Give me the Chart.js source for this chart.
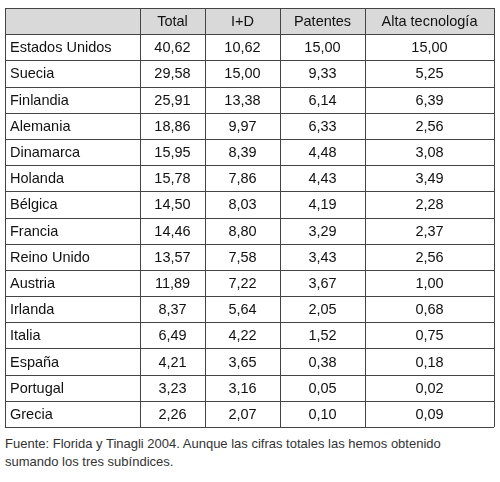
<!DOCTYPE html>
<html><head><meta charset="utf-8">
<script src="https://cdn.jsdelivr.net/npm/chart.js@4"></script>
<style>
body{margin:0;background:#fff;font-family:"Liberation Sans",Arial,sans-serif}
#wrap{width:500px;height:435px;position:relative}
#note{margin:0 0 0 5px;font-size:13px;line-height:18px;color:#333;width:470px}
</style></head><body>
<div id="wrap"><canvas id="tbl"></canvas></div>
<p id="note">Fuente: Florida y Tinagli 2004. Aunque las cifras totales las hemos obtenido sumando los tres subíndices.</p>
<script>
const headers = ["", "Total", "I+D", "Patentes", "Alta tecnología"];
const countries = ["Estados Unidos","Suecia","Finlandia","Alemania","Dinamarca","Holanda","Bélgica","Francia","Reino Unido","Austria","Irlanda","Italia","España","Portugal","Grecia"];
const total = ["40,62","29,58","25,91","18,86","15,95","15,78","14,50","14,46","13,57","11,89","8,37","6,49","4,21","3,23","2,26"];
const rd = ["10,62","15,00","13,38","9,97","8,39","7,86","8,03","8,80","7,58","7,22","5,64","4,22","3,65","3,16","2,07"];
const patents = ["15,00","9,33","6,14","6,33","4,48","4,43","4,19","3,29","3,43","3,67","2,05","1,52","0,38","0,05","0,10"];
const hightech = ["15,00","5,25","6,39","2,56","3,08","3,49","2,28","2,37","2,56","1,00","0,68","0,75","0,18","0,02","0,09"];

const edges = [5, 140, 205, 280, 365, 494];
const columns = [countries, total, rd, patents, hightech];

// one point per cell, text drawn at the point
const cells = [];
headers.forEach((h, c) => cells.push({x: c === 0 ? edges[0] + 5 : (edges[c] + edges[c+1]) / 2, y: 0.5, text: h, col: c, head: true}));
columns.forEach((vals, c) => vals.forEach((v, r) => cells.push({
  x: c === 0 ? edges[0] + 5 : (edges[c] + edges[c+1]) / 2, y: r + 1.5, text: v, col: c
})));
const nRows = countries.length + 1;

const tablePlugin = {
  id: "table",
  beforeDatasetsDraw(chart) {
    const {ctx, scales: {x, y}} = chart;
    const L = x.getPixelForValue(edges[0]), R = x.getPixelForValue(edges[edges.length-1]);
    const T = y.getPixelForValue(0), B = y.getPixelForValue(nRows);
    ctx.save();
    ctx.fillStyle = "#d9d9d9";
    ctx.fillRect(L, T, R - L, y.getPixelForValue(1) - T);
    ctx.strokeStyle = "#444";
    ctx.lineWidth = 1;
    ctx.beginPath();
    for (let r = 0; r <= nRows; r++) {
      const py = Math.round(y.getPixelForValue(r)) + 0.5;
      ctx.moveTo(L, py); ctx.lineTo(R, py);
    }
    edges.forEach(e => {
      const px = Math.round(x.getPixelForValue(e)) + 0.5;
      ctx.moveTo(px, T); ctx.lineTo(px, B);
    });
    ctx.stroke();
    ctx.restore();
  },
  afterDatasetsDraw(chart) {
    const {ctx} = chart;
    const meta = chart.getDatasetMeta(0);
    ctx.save();
    ctx.font = "14.5px 'Liberation Sans', Arial, sans-serif";
    ctx.fillStyle = "#111";
    ctx.textBaseline = "middle";
    meta.data.forEach((el, i) => {
      const cell = cells[i];
      ctx.textAlign = cell.col === 0 ? "left" : "center";
      ctx.fillText(cell.text, el.x, el.y + 1);
    });
    ctx.restore();
  }
};

new Chart(document.getElementById("tbl"), {
  type: "scatter",
  data: {datasets: [{data: cells, pointRadius: 0, pointHoverRadius: 0}]},
  options: {
    responsive: true,
    maintainAspectRatio: false,
    animation: false,
    events: [],
    layout: {padding: {top: 8, bottom: 8, left: 0, right: 0}},
    plugins: {legend: {display: false}, tooltip: {enabled: false}},
    scales: {
      x: {type: "linear", min: 0, max: 500, display: false},
      y: {type: "linear", min: 0, max: nRows, reverse: true, display: false}
    }
  },
  plugins: [tablePlugin]
});
</script>
</body></html>
